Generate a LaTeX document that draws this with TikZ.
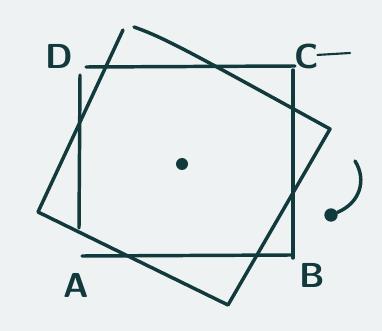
\documentclass[tikz,border=0pt]{standalone}
\usetikzlibrary{arrows.meta}
\definecolor{ink}{HTML}{123A3C}
\definecolor{paper}{HTML}{EEF2F3}
\begin{document}
\begin{tikzpicture}[x=0.75pt, y=-0.75pt,
    edge/.style={draw=ink, line width=2.6pt, line cap=round, line join=round},
    corner/.style={font=\sffamily\bfseries\fontsize{26}{26}\selectfont, text=ink, inner sep=0pt},
    dot/.style={circle, fill=ink, inner sep=0pt, minimum size=#1},
  ]
    % Paper
    \fill[paper] (0,0) rectangle (382,331);
    \useasboundingbox (0,0) rectangle (382,331);

    % Fixed square
    \coordinate (d1) at (86,67);
    \coordinate (c1) at (295,66);
    \coordinate (c2) at (293,70);
    \coordinate (b1) at (293,258);
    \coordinate (b2) at (291,255);
    \coordinate (a1) at (82,256);
    \coordinate (a2) at (79,228);
    \coordinate (d2) at (80,75);
    \draw[edge] (d1) -- (c1);
    \draw[edge] (c2) -- (b1);
    \draw[edge] (b2) -- (a1);
    \draw[edge] (a2) -- (d2);

    % Turned square
    \coordinate (t0) at (123,30);
    \coordinate (t1) at (134,27);
    \coordinate (r)  at (330,129);
    \coordinate (s)  at (228,305);
    \coordinate (l)  at (38,212);
    \draw[edge] (t1) .. controls (165,38) and (190,52) .. (r) -- (s) -- (l) -- (t0);

    % Centre
    \node[dot=9pt] (o) at (182,164) {};

    % Turn
    \coordinate (spin0) at (355,161);
    \node[dot=10pt] (spin) at (331,215) {};
    \draw[edge] (spin0) .. controls (367,180) and (360,203) .. (spin);

    % Corners
    \node[corner] (nd) at (59,56) {D};
    \node[corner] (nc) at (307,56) {C};
    \node[corner] (nb) at (312,275) {B};
    \node[corner] (na) at (76,285) {A};
    \coordinate (ctail) at (350,53);
    \draw[edge, line width=1.6pt] ([xshift=-1.5pt, yshift=0.8pt]nc.east) -- (ctail);
\end{tikzpicture}
\end{document}
